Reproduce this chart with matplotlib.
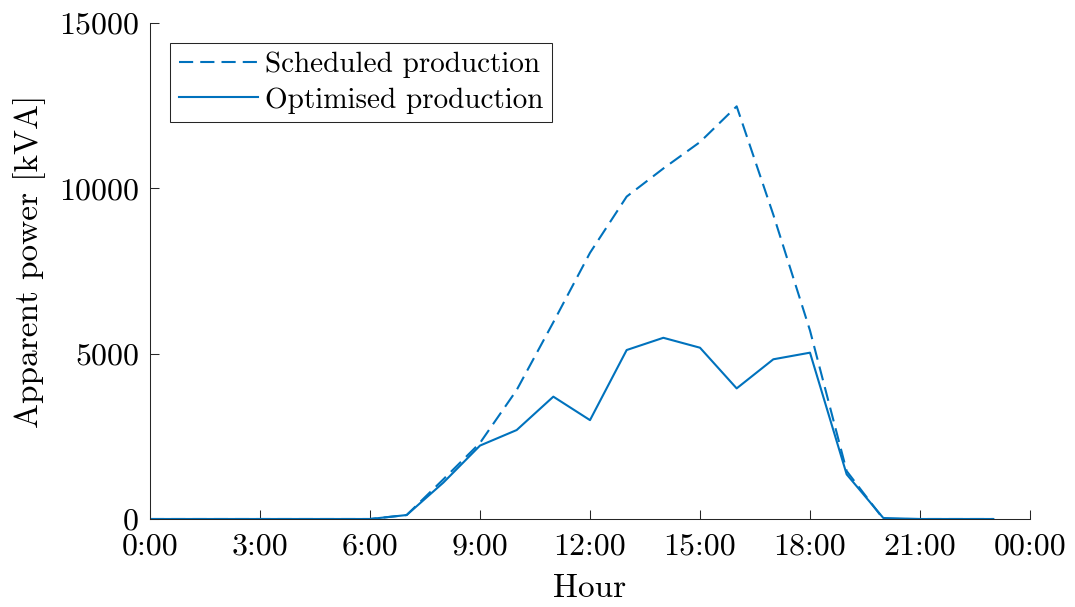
import matplotlib
matplotlib.use("Agg")
import matplotlib.pyplot as plt
import numpy as np

plt.rcParams['font.family'] = ['cmr10', 'DejaVu Serif']
plt.rcParams['mathtext.fontset'] = 'cm'
plt.rcParams['axes.unicode_minus'] = False
plt.rcParams['axes.formatter.use_mathtext'] = True

hours = list(range(24))
scheduled = [0, 0, 0, 0, 0, 0, 0, 120, 1200, 2300, 3900, 5950, 8050, 9750,
             10600, 11400, 12480, 9200, 5700, 1450, 0, 0, 0, 0]
optimised = [0, 0, 0, 0, 0, 0, 0, 120, 1100, 2220, 2690, 3700, 2990, 5110,
             5480, 5180, 3950, 4830, 5030, 1350, 30, 0, 0, 0]
xtick_pos = [0, 3, 6, 9, 12, 15, 18, 21, 24]
xtick_labels = ["0:00", "3:00", "6:00", "9:00", "12:00", "15:00", "18:00", "21:00", "00:00"]
ytick_pos = [0, 5000, 10000, 15000]

color = '#0072BD'
fig = plt.figure(figsize=(10.75, 6.07), dpi=100)
ax = fig.add_axes([150/1075, 88/607, 880/1075, 496/607])

ax.plot(hours, scheduled, color=color, lw=1.5, dashes=(6.8, 3.4), label='Scheduled production')
ax.plot(hours, optimised, color=color, lw=1.5, label='Optimised production')

ax.set_xlim(0, 24)
ax.set_ylim(0, 15000)
ax.set_xticks(xtick_pos)
ax.set_xticklabels(xtick_labels)
ax.set_yticks(ytick_pos)
ax.set_yticklabels([str(v) for v in ytick_pos])

for s in ['top', 'right']:
    ax.spines[s].set_visible(False)
for s in ['left', 'bottom']:
    ax.spines[s].set_color('#262626')
    ax.spines[s].set_linewidth(0.75)
ax.tick_params(direction='in', length=6.5, width=0.75, color='#262626',
               labelsize=23, labelcolor='black')
ax.tick_params(axis='x', pad=10)
ax.tick_params(axis='y', pad=8)

ax.set_xlabel('Hour', fontsize=24, labelpad=10)
ax.set_ylabel('Apparent power [kVA]', fontsize=24, labelpad=9)
ax.yaxis.label.set_y(0.52)

leg = ax.legend(loc='upper left', bbox_to_anchor=(20/880, 1 - 20/496), borderaxespad=0,
                fontsize=21, frameon=True, fancybox=False, handlelength=2.7,
                handletextpad=0.25, borderpad=0.3, labelspacing=0.3)
leg.get_frame().set_edgecolor('#262626')
leg.get_frame().set_linewidth(0.75)
leg.get_frame().set_alpha(1)

fig.savefig('out.png', dpi=100)
